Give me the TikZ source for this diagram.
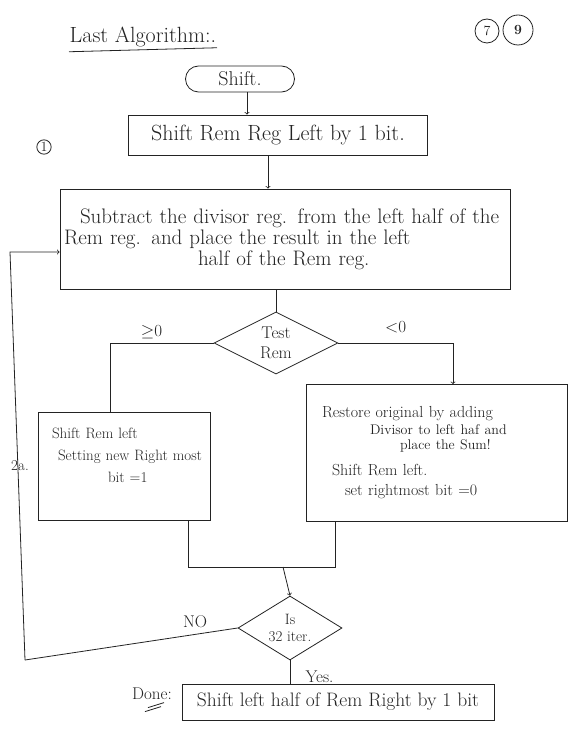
\documentclass[tikz,border=0pt]{standalone}
\usepackage{tikz}
\usepackage{xcolor}
\usetikzlibrary{shapes.geometric, arrows, positioning}
\definecolor{penink}{RGB}{35,35,35}

\begin{document}
\begin{tikzpicture}[x=1pt, y=-1pt, line width=0.8pt, color=penink,
    every node/.style={font=\fontsize{17}{20}\selectfont},
    stepbox/.style={draw, rectangle, inner sep=2pt},
    testbox/.style={draw, diamond, inner sep=0pt},
    smallink/.style={font=\fontsize{14}{16}\selectfont},
    bigink/.style={font=\fontsize{21}{21}\selectfont}]
    \fill[white] (0,0) rectangle (572,754);
    \useasboundingbox (0,0) rectangle (572,754);

    % heading
    \node[anchor=west, font=\fontsize{22}{24}\selectfont] (title) at (66,37) {Last Algorithm:.};
    \draw (title.south west) ++(3,1) -- ++(148,-4);
    \node[draw, circle, inner sep=0pt, minimum size=24, smallink] (pgseven) at (487,31) {7};
    \node[draw, circle, inner sep=0pt, minimum size=30, smallink] (pgnine) at (518,30) {\textbf{9}};

    % start
    \node[draw, rounded corners=13pt, minimum width=109, minimum height=26, font=\fontsize{20}{20}\selectfont] (start) at (240,79) {Shift.};

    % step 1
    \node[stepbox, minimum width=299, minimum height=40, font=\fontsize{22}{22}\selectfont] (shiftreg) at (278,135) {Shift Rem Reg Left by 1 bit.};
    \node[draw, circle, inner sep=1pt, smallink] (one) at (44,147) {1};

    % step 2
    \node[stepbox, minimum width=450, minimum height=100, text width=446, align=left, bigink] (sub) at (285,239)
        {\hspace{18pt}Subtract the divisor reg. from the left half of the\\
         \hspace{2pt}Rem reg. and place the result in the left\\
         \hspace{136pt}half of the Rem reg.};

    % test
    \node[testbox, aspect=2, minimum width=124, minimum height=62, align=center] (test) at (276,343) {Test\\Rem};

    % branches
    \node[stepbox, minimum width=172, minimum height=108, text width=168, align=left, font=\fontsize{15}{22}\selectfont] (setone) at (124,466)
        {\hspace{12pt}Shift Rem left\\ \hspace{18pt}Setting new Right most\\ \hspace{68pt}bit =1\\ \mbox{}};
    \node[font=\fontsize{15}{15}\selectfont] (twoa) at (20,466) {2a.};
    \node[stepbox, minimum width=261, minimum height=137, text width=240, align=left, font=\fontsize{16}{20}\selectfont] (restore) at (437,453)
        {\hspace{5pt}Restore original by adding\\[-3pt]
         \hspace{53pt}{\fontsize{14}{15}\selectfont Divisor to left haf and}\\[-5pt]
         \hspace{83pt}{\fontsize{14}{15}\selectfont place the Sum!}\\[6pt]
         \hspace{15pt}Shift Rem left.\\
         \hspace{28pt}set rightmost bit =0};

    % iteration test
    \node[testbox, aspect=1.6, minimum width=104, minimum height=64, align=center, font=\fontsize{15}{17}\selectfont] (iter) at (290,628) {Is\\32 iter.};

    % done
    \node[stepbox, minimum width=312, minimum height=36, font=\fontsize{19.5}{20}\selectfont] (done) at (338,702) {Shift left half of Rem Right by 1 bit};
    \node (donelbl) at (152,694) {Done:};
    \draw ([xshift=-4,yshift=-4]donelbl.south) -- ++(16,-5);
    \draw ([xshift=-7,yshift=-8]donelbl.south) -- ++(16,-5);

    % join and loop points
    \coordinate (join) at (283,567);
    \coordinate (loopbot) at (25,660);
    \coordinate (looptop) at (10,252);

    % connectors
    \draw[->] (start.south -| 247,0) -- (shiftreg.north -| 247,0);
    \draw[->] (shiftreg.south -| 268,0) -- (sub.north -| 268,0);
    \draw (test.north |- sub.south) -- (test.north);
    \draw (test.west) -| ([xshift=-14]setone.north) node[pos=0.3, above] {$\geq$0};
    \draw[->] (test.east) -| ([xshift=16]restore.north) node[pos=0.25, above=6pt] {$<$0};
    \draw ([xshift=64]setone.south) |- (join);
    \draw ([xshift=-102]restore.south) |- (join);
    \draw[->] (join) -- (iter.north);
    \draw (iter.south) -- (done.north -| iter.south) node[pos=0.7, right=12pt] {Yes.};
    \draw (iter.west) -- (loopbot) node[pos=0.2, above=3pt] {NO};
    \draw[->] (loopbot) -- (looptop) -- (sub.west |- looptop);
\end{tikzpicture}
\end{document}
